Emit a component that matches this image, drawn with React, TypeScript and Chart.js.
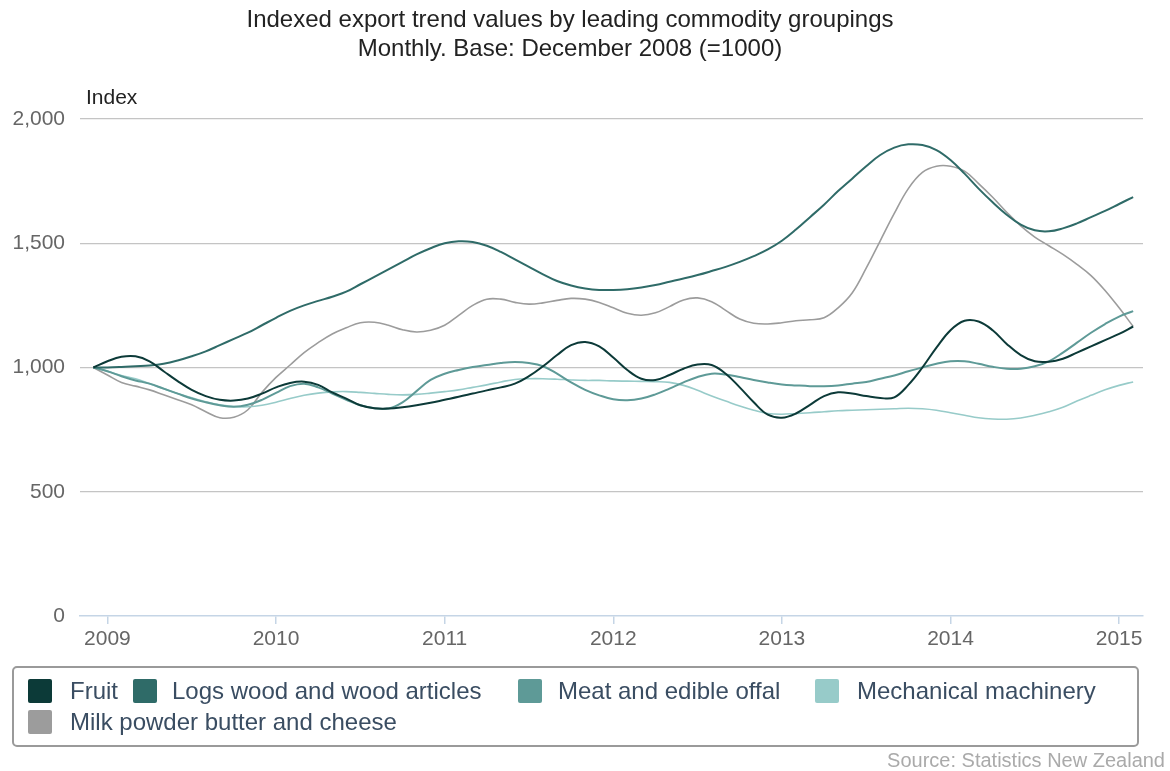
import React, { useEffect, useRef } from "react";
import { Chart, registerables } from "chart.js";

Chart.register(...registerables);

// Month index 0 = Dec 2008 (base = 1000) ... 74 = Feb 2015
const yearLabels = ["2009", "2010", "2011", "2012", "2013", "2014", "2015"];
const yearTickPositions = [1, 13, 25, 37, 49, 61, 73];
const yTickValues = [0, 500, 1000, 1500, 2000];

const fruit = [
  1000, 1025, 1043, 1045, 1025, 985, 945, 910, 885, 870, 867, 875, 895, 920, 938, 943, 930, 900, 875, 848,
  836, 835, 840, 848, 858, 870, 882, 895, 908, 920, 935, 965, 1005, 1050, 1090, 1103, 1085, 1040, 990, 955,
  950, 970, 995, 1012, 1010, 975, 920, 860, 810, 798, 815, 850, 885, 900, 895, 885, 877, 880, 930, 1000,
  1080, 1150, 1188, 1185, 1150, 1095, 1050, 1025, 1023, 1035, 1060, 1085, 1110, 1135, 1165,
];
const logs = [
  1000, 1000, 1002, 1005, 1008, 1015, 1028, 1045, 1065, 1090, 1115, 1140, 1170, 1200, 1228, 1250, 1268, 1285, 1305, 1335,
  1365, 1395, 1425, 1455, 1480, 1500, 1508, 1505, 1490, 1465, 1435, 1405, 1375, 1348, 1330, 1318, 1312, 1312, 1315, 1322,
  1332, 1345, 1358, 1372, 1388, 1405, 1425, 1448, 1475, 1510, 1555, 1605, 1655, 1710, 1760, 1810, 1855, 1885, 1898, 1895,
  1875, 1835, 1780, 1720, 1665, 1615, 1575, 1552, 1548, 1560, 1580, 1605, 1630, 1658, 1686,
];
const meat = [
  1000, 985, 965, 948, 935, 915, 895, 875, 860, 848, 842, 850, 870, 898, 925, 935, 920, 895, 870, 848,
  836, 835, 860, 905, 950, 975, 990, 1002, 1010, 1018, 1022, 1018, 1005, 975, 940, 910, 888, 872, 868, 875,
  892, 915, 940, 962, 975, 972, 962, 950, 940, 932, 928, 925, 925, 928, 935, 942, 955, 968, 985, 1000,
  1015, 1025, 1025, 1015, 1003, 995, 995, 1005, 1025, 1060, 1100, 1140, 1175, 1205, 1227,
];
const machinery = [
  1000, 985, 968, 955, 935, 915, 895, 878, 862, 850, 843, 842, 848, 860, 875, 888, 897, 902, 903, 900,
  896, 892, 890, 892, 897, 903, 910, 920, 930, 942, 952, 955, 955, 953, 950, 948, 948, 946, 945, 944,
  943, 940, 928, 908, 885, 865, 845, 828, 815, 812, 815, 818, 822, 826, 828, 830, 832, 834, 836, 834,
  828, 818, 808, 798, 793, 792, 797, 808, 822, 840, 865, 888, 910, 928, 942,
];
const milk = [
  1000, 970, 940, 925, 910, 890, 870, 850, 822, 798, 800, 830, 900, 960, 1010, 1060, 1100, 1135, 1160, 1180,
  1182, 1170, 1152, 1143, 1150, 1170, 1210, 1250, 1275, 1275, 1262, 1255, 1260, 1270, 1278, 1275, 1262, 1240, 1218, 1210,
  1220, 1245, 1272, 1280, 1265, 1230, 1195, 1178, 1175, 1180, 1188, 1192, 1200, 1240, 1300, 1400, 1510, 1620, 1720, 1785,
  1810, 1810, 1790, 1740, 1685, 1625, 1570, 1525, 1490, 1455, 1415, 1370, 1310, 1240, 1165,
];

const seriesNames = [
  "Fruit",
  "Logs wood and wood articles",
  "Meat and edible offal",
  "Mechanical machinery",
  "Milk powder butter and cheese",
];
const seriesValues = [fruit, logs, meat, machinery, milk];
const seriesColors = ["#0c3a38", "#2f6b68", "#5e9a97", "#97cbc9", "#9c9c9c"];
const seriesWidths = [2, 2, 2, 1.6, 1.6];

const FONT = '"Liberation Sans", Arial, Helvetica, sans-serif';

export default function App() {
  const ref = useRef<HTMLCanvasElement>(null);

  useEffect(() => {
    const canvas = ref.current;
    if (!canvas) return;
    const chart = new Chart(canvas, {
      type: "line",
      data: {
        datasets: seriesValues.map((vals, s) => ({
          label: seriesNames[s],
          data: vals.map((v, i) => ({ x: i, y: v })),
          borderColor: seriesColors[s],
          backgroundColor: seriesColors[s],
          borderWidth: seriesWidths[s],
          pointRadius: 0,
          tension: 0.4,
          fill: false,
        })),
      },
      options: {
        responsive: false,
        animation: false,
        devicePixelRatio: 1,
        layout: { padding: { left: 0, right: 27, top: 119, bottom: 115 } },
        plugins: {
          legend: { display: false },
          title: { display: false },
          tooltip: { enabled: false },
        },
        scales: {
          x: {
            type: "linear",
            min: -0.95,
            max: 74.7,
            afterFit: (scale: any) => {
              scale.height = 40;
            },
            afterBuildTicks: (scale: any) => {
              scale.ticks = yearTickPositions.map((v) => ({ value: v }));
            },
            ticks: {
              autoSkip: false,
              maxRotation: 0,
              padding: 3,
              color: "#666",
              font: { family: FONT, size: 21 },
              callback: (value: any) => {
                const idx = yearTickPositions.indexOf(Number(value));
                return idx >= 0 ? yearLabels[idx] : "";
              },
            },
            grid: {
              drawOnChartArea: false,
              drawTicks: true,
              tickLength: 8,
              color: "#c5d5e6",
              lineWidth: 1.5,
            },
            border: { display: true, color: "#c5d5e6", width: 1.5 },
          },
          y: {
            type: "linear",
            min: 0,
            max: 2000,
            afterFit: (scale: any) => {
              scale.width = 80;
            },
            afterBuildTicks: (scale: any) => {
              scale.ticks = yTickValues.map((v) => ({ value: v }));
            },
            ticks: {
              padding: 15,
              color: "#666",
              font: { family: FONT, size: 21 },
              callback: (value: any) => Number(value).toLocaleString("en-US"),
            },
            grid: {
              drawTicks: false,
              color: (ctx: any) => (ctx.tick && ctx.tick.value === 0 ? "rgba(0,0,0,0)" : "#c4c4c4"),
              lineWidth: 1.2,
            },
            border: { display: false },
          },
        },
      },
    });
    return () => chart.destroy();
  }, []);

  const legendRows = [
    [
      { s: 0, sw: 28, tx: 70 },
      { s: 1, sw: 133, tx: 172 },
      { s: 2, sw: 518, tx: 558 },
      { s: 3, sw: 815, tx: 857 },
    ],
    [{ s: 4, sw: 28, tx: 70 }],
  ];
  const rowCenters = [691, 722];

  return (
    <div
      style={{
        position: "fixed",
        left: 0,
        top: 0,
        width: 1170,
        height: 771,
        background: "#fff",
        fontFamily: FONT,
        overflow: "hidden",
      }}
    >
      <canvas
        ref={ref}
        width={1170}
        height={771}
        style={{ position: "absolute", left: 0, top: 0, width: 1170, height: 771 }}
      />
      <div
        style={{
          position: "absolute",
          left: 0,
          width: 1140,
          top: 4,
          lineHeight: "30px",
          fontSize: 24,
          textAlign: "center",
          color: "#222",
          whiteSpace: "nowrap",
        }}
      >
        Indexed export trend values by leading commodity groupings
      </div>
      <div
        style={{
          position: "absolute",
          left: 0,
          width: 1140,
          top: 33,
          lineHeight: "30px",
          fontSize: 24,
          textAlign: "center",
          color: "#222",
          whiteSpace: "nowrap",
        }}
      >
        Monthly. Base: December 2008 (=1000)
      </div>
      <div
        style={{
          position: "absolute",
          left: 86,
          top: 85,
          lineHeight: "24px",
          fontSize: 21,
          color: "#222",
        }}
      >
        Index
      </div>
      <div
        style={{
          position: "absolute",
          left: 12,
          top: 666,
          width: 1127,
          height: 81,
          boxSizing: "border-box",
          border: "2px solid #9a9a9a",
          borderRadius: 5,
        }}
      />
      {legendRows.map((row, r) =>
        row.map((it) => (
          <React.Fragment key={it.s}>
            <div
              style={{
                position: "absolute",
                left: it.sw,
                top: rowCenters[r] - 12,
                width: 24,
                height: 24,
                background: seriesColors[it.s],
                borderRadius: 2,
              }}
            />
            <div
              style={{
                position: "absolute",
                left: it.tx,
                top: rowCenters[r] - 15,
                lineHeight: "30px",
                fontSize: 24,
                color: "#3a4d62",
                whiteSpace: "nowrap",
              }}
            >
              {seriesNames[it.s]}
            </div>
          </React.Fragment>
        ))
      )}
      <div
        style={{
          position: "absolute",
          right: 5,
          top: 749,
          lineHeight: "22px",
          fontSize: 20,
          color: "#aaa",
          whiteSpace: "nowrap",
        }}
      >
        Source: Statistics New Zealand
      </div>
    </div>
  );
}
